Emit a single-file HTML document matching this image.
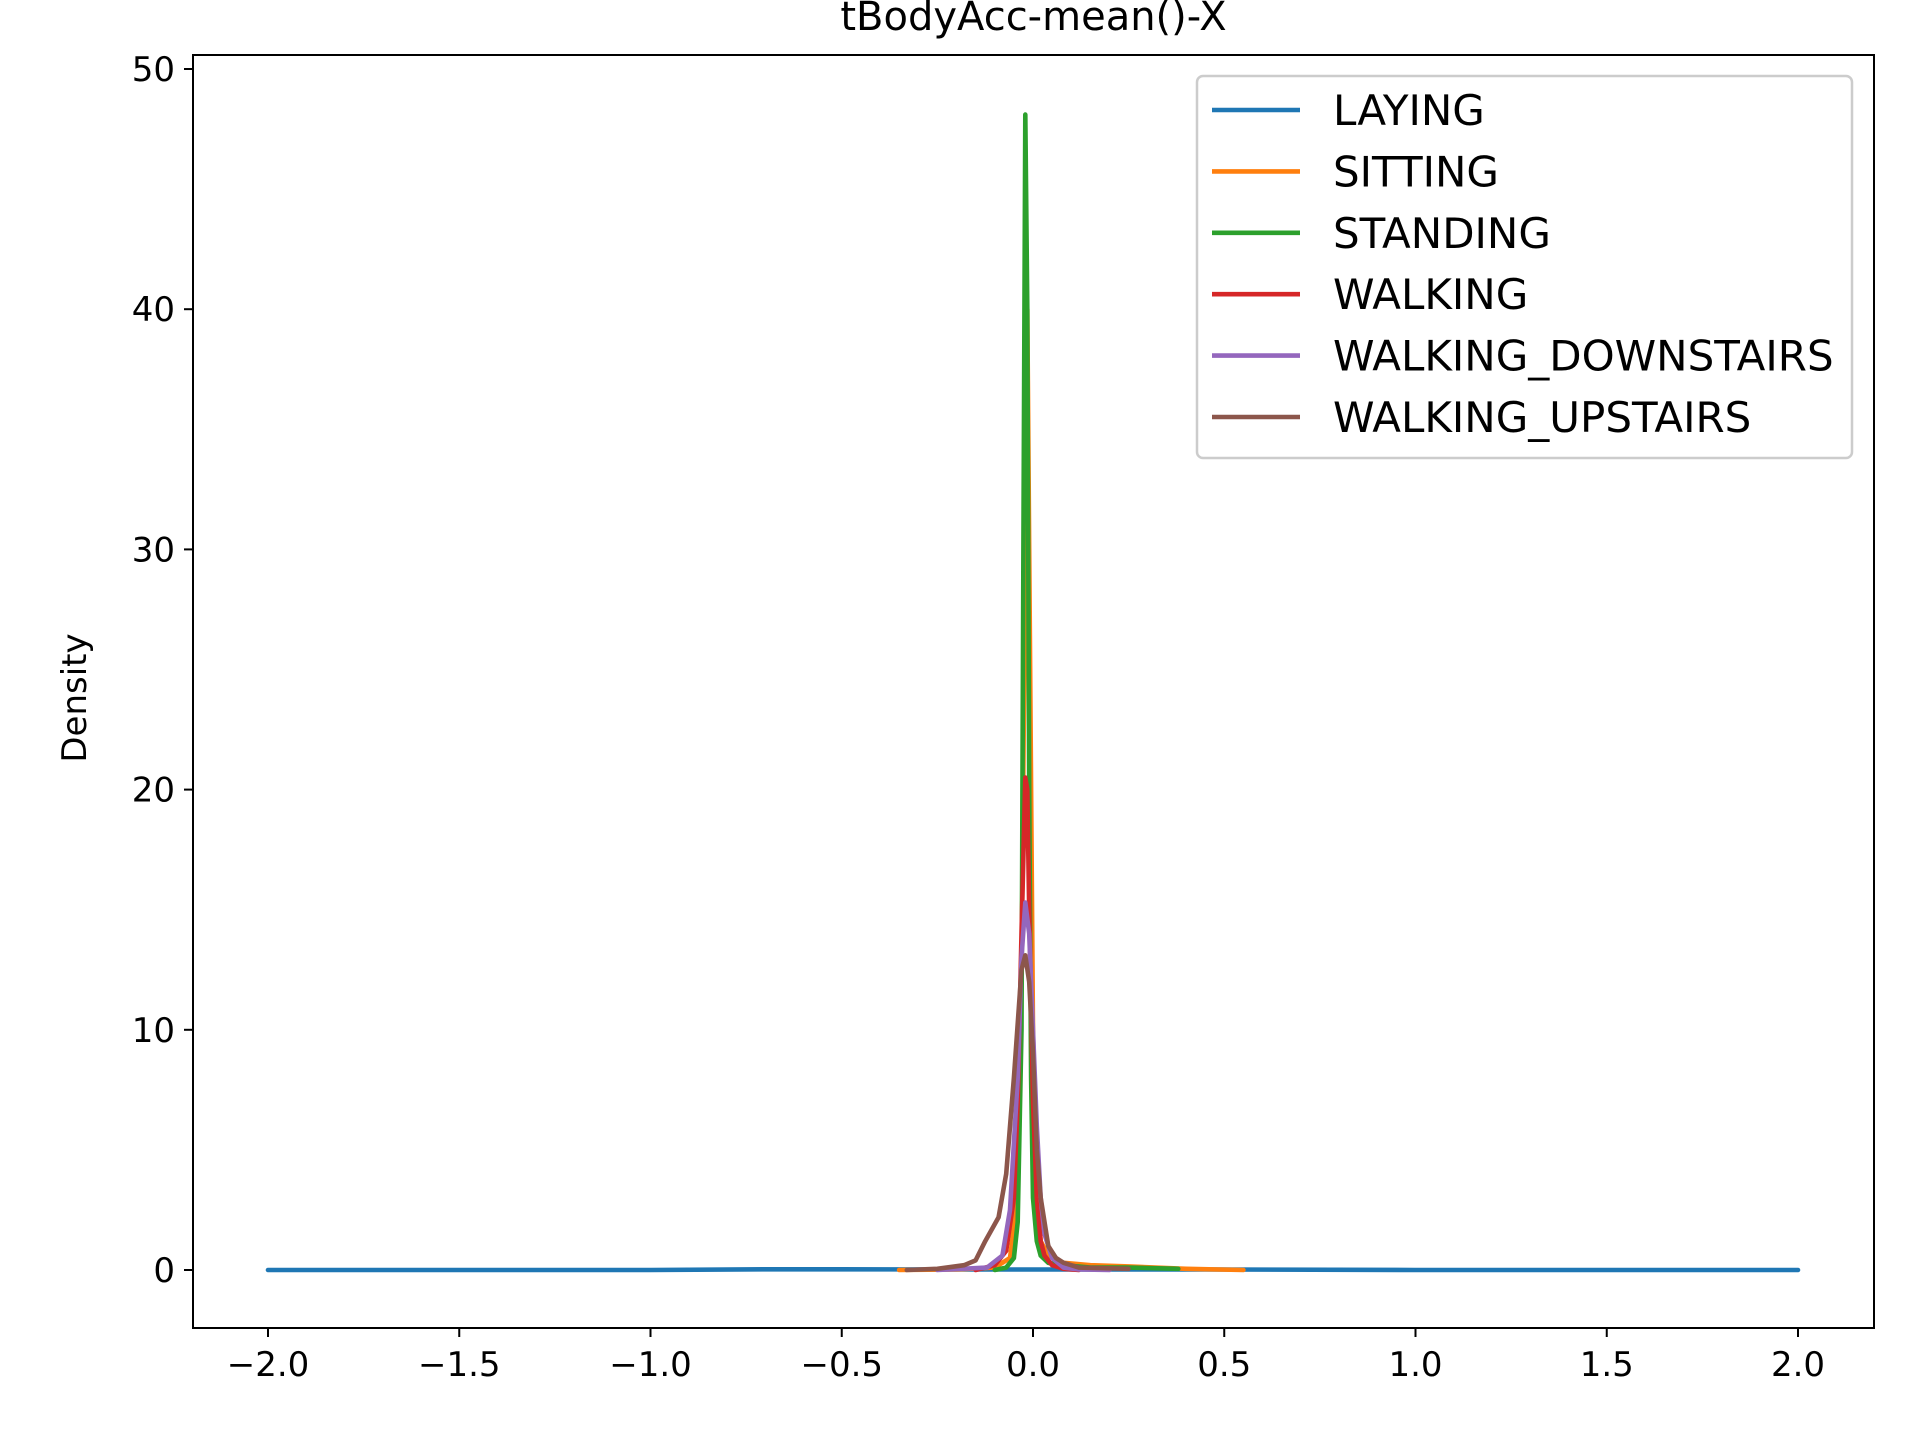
<!DOCTYPE html>
<html><head><meta charset="utf-8">
<style>
body{margin:0;background:#fff;}
svg text{font-family:"DejaVu Sans","Liberation Sans",sans-serif;fill:#000;}
</style></head>
<body>
<svg id="chart" width="1920" height="1440" xmlns="http://www.w3.org/2000/svg">
<rect width="1920" height="1440" fill="#fff"/>
<g id="plot"></g>
<g id="axes"></g>
</svg>
<script>
const xTicks = [-2.0,-1.5,-1.0,-0.5,0.0,0.5,1.0,1.5,2.0];
const yTicks = [0,10,20,30,40,50];
const seriesNames = ["LAYING","SITTING","STANDING","WALKING","WALKING_DOWNSTAIRS","WALKING_UPSTAIRS"];
const seriesColors = ["#1f77b4","#ff7f0e","#2ca02c","#d62728","#9467bd","#8c564b"];
const layingX = [-2.0,-1.0,-0.7,-0.5,-0.2,0,0.5,1.0,2.0];
const layingY = [0,0,0.03,0.03,0.02,0.02,0.02,0,0];
const sittingX = [-0.35,-0.2,-0.1,-0.06,-0.04,-0.03,-0.02,-0.015,-0.01,0,0.01,0.02,0.04,0.08,0.15,0.25,0.4,0.55];
const sittingY = [0,0.02,0.1,0.5,3,12,30,40,30,10,3,1.2,0.6,0.3,0.2,0.15,0.05,0];
const standingX = [-0.1,-0.07,-0.05,-0.04,-0.03,-0.025,-0.02,-0.015,-0.01,-0.005,0,0.01,0.02,0.04,0.08,0.15,0.25,0.38];
const standingY = [0,0.1,0.5,2,10,30,48.1,40,20,8,3,1.2,0.6,0.3,0.2,0.1,0.1,0.05];
const walkingX = [-0.15,-0.1,-0.07,-0.05,-0.04,-0.03,-0.02,-0.015,-0.01,0,0.01,0.02,0.03,0.05,0.08,0.12];
const walkingY = [0,0.2,0.8,3,7,14,20.5,20,15,7,3,1.2,0.6,0.2,0.05,0];
const downX = [-0.25,-0.12,-0.08,-0.06,-0.04,-0.03,-0.02,-0.01,0,0.01,0.02,0.03,0.05,0.08,0.12,0.2];
const downY = [0,0.1,0.6,2.5,8,13,15.3,14,10,6,3,1.5,0.5,0.1,0.02,0];
const upX = [-0.33,-0.25,-0.18,-0.15,-0.125,-0.09,-0.07,-0.05,-0.03,-0.02,-0.01,0,0.01,0.02,0.04,0.06,0.08,0.12,0.25];
const upY = [0,0.05,0.2,0.4,1.2,2.2,4,8,12.5,13.1,12,9,5,3,1,0.5,0.3,0.1,0.05];
const seriesX = [layingX,sittingX,standingX,walkingX,downX,upX];
const seriesY = [layingY,sittingY,standingY,walkingY,downY,upY];

const NS = "http://www.w3.org/2000/svg";
const L=193,R=1874,T=55,B=1328;
const sx = v => 1033 + v*382.5;
const sy = v => 1270 - v*24.02;
function mk(tag, attrs, parent){const e=document.createElementNS(NS,tag);for(const k in attrs)e.setAttribute(k,attrs[k]);parent.appendChild(e);return e;}
const plot=document.getElementById('plot'), axes=document.getElementById('axes');

seriesNames.forEach((n,i)=>{
  const pts = seriesX[i].map((x,j)=>sx(x).toFixed(1)+','+sy(seriesY[i][j]).toFixed(1)).join(' ');
  const p = mk('polyline',{points:pts,fill:'none',stroke:seriesColors[i],'stroke-width':4.6,'stroke-linejoin':'round','stroke-linecap':'round'},plot);
  
  
});

const frame = mk('rect',{x:L,y:T,width:R-L,height:B-T,fill:'none',stroke:'#000','stroke-width':2},axes);



xTicks.forEach(v=>{
  const x=sx(v);
  mk('line',{x1:x,y1:B,x2:x,y2:B+9,stroke:'#000','stroke-width':2},axes);
  const t=mk('text',{x:x,y:B+48,'text-anchor':'middle','font-size':34},axes);
  t.textContent = v===0?'0.0':(v<0?'\u2212'+Math.abs(v).toFixed(1):v.toFixed(1));
  
  
});
yTicks.forEach(v=>{
  const y=sy(v);
  mk('line',{x1:L-9,y1:y,x2:L,y2:y,stroke:'#000','stroke-width':2},axes);
  const t=mk('text',{x:L-18,y:y+12,'text-anchor':'end','font-size':34},axes);
  t.textContent = v;
  
  
});
const title=mk('text',{x:(L+R)/2,y:30,'text-anchor':'middle','font-size':40},axes);
title.textContent='tBodyAcc-mean()-X';


const yl=mk('text',{x:0,y:0,'text-anchor':'middle','font-size':34,transform:'translate(86,698) rotate(-90)'},axes);
yl.textContent='Density';



const lg=mk('g',{},axes);


mk('rect',{x:1197,y:76,width:655,height:382,rx:6,fill:'#fff','fill-opacity':0.8,stroke:'#ccc','stroke-width':2.5},lg);
seriesNames.forEach((n,i)=>{
  const y=110+i*61.4;
  const g=mk('g',{},lg);
  
  
  mk('line',{x1:1212,y1:y,x2:1300,y2:y,stroke:seriesColors[i],'stroke-width':4.6},g);
  const t=mk('text',{x:1333,y:y+15,'font-size':42},g);
  t.textContent=n;
});
</script>
</body></html>
